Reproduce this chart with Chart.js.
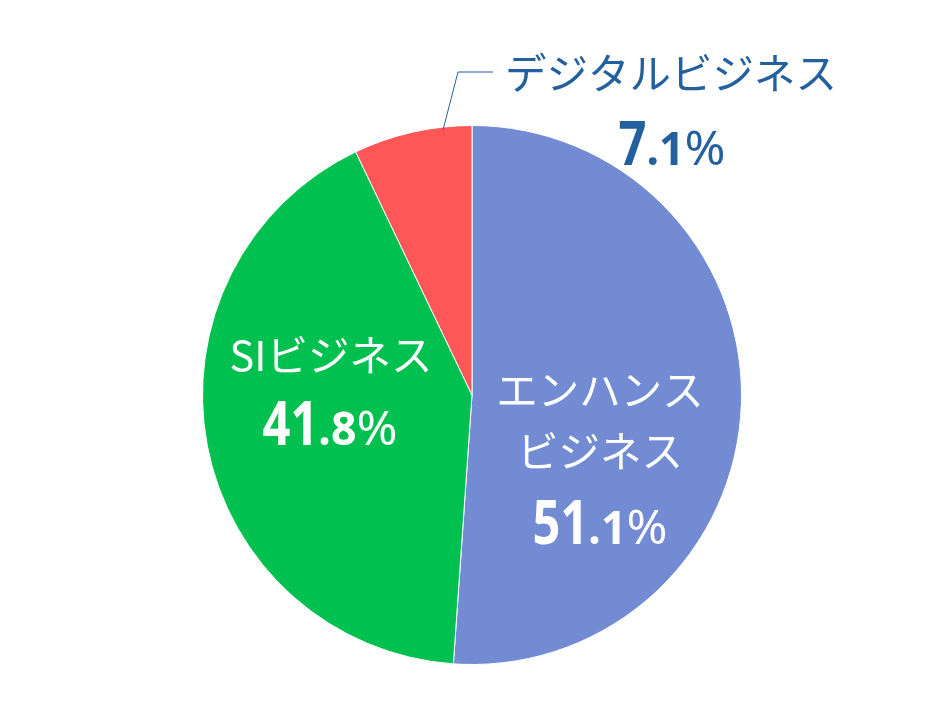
<!DOCTYPE html>
<html>
<head>
<meta charset="utf-8">
<script src="https://cdn.jsdelivr.net/npm/chart.js@4.4.1/dist/chart.umd.min.js"></script>
<style>
  html, body { margin: 0; padding: 0; background: #fff; }
</style>
</head>
<body>
<canvas id="shareChart" width="950" height="720"></canvas>
<script>
// Data
const segments = ['エンハンスビジネス', 'SIビジネス', 'デジタルビジネス'];
const labelLines = [['エンハンス', 'ビジネス'], ['SIビジネス'], ['デジタルビジネス']];
const shares = [51.1, 41.8, 7.1];

// Theme colors
const colors = {
    enhance: '#728BD2',
    si: '#00C050',
    digital: '#FF5757',
    navy: '#22609E',
    white: '#FFFFFF'
};

// Where each label sits (canvas px)
const labelLayout = [
    { x: 600, lineY: [390, 451], pctX: 600, pctY: 544, color: colors.white },
    { x: 331, lineY: [355], pctX: 330, pctY: 445, color: colors.white },
    { x: 671, lineY: [73], pctX: 672, pctY: 165, color: colors.navy, leader: [[443, 130], [458, 72], [493, 72]] }
];

const kanaFont = '41.5px "Noto Sans CJK JP", "Noto Sans", sans-serif';

function drawPercent(ctx, value, cx, baseline) {
    const str = value.toFixed(1);
    const dot = str.indexOf('.');
    const parts = [
        { t: str.slice(0, dot), font: 'bold 61px "Noto Sans", sans-serif', sx: 0.8 },
        { t: str.slice(dot), font: 'bold 47px "Noto Sans", sans-serif', sx: 0.95 },
        { t: '%', font: '47px "Noto Sans", sans-serif', sx: 1.05 }
    ];
    let total = 0;
    parts.forEach(p => {
        ctx.font = p.font;
        p.w = ctx.measureText(p.t).width * p.sx;
        total += p.w;
    });
    let x = cx - total / 2;
    ctx.textAlign = 'left';
    ctx.textBaseline = 'alphabetic';
    parts.forEach(p => {
        ctx.save();
        ctx.font = p.font;
        ctx.translate(x, baseline);
        ctx.scale(p.sx, 1);
        ctx.fillText(p.t, 0, 0);
        ctx.restore();
        x += p.w;
    });
}

const sliceLabels = {
    id: 'sliceLabels',
    afterDraw(chart) {
        const ctx = chart.ctx;
        ctx.save();
        labelLayout.forEach((pos, i) => {
            if (pos.leader) {
                ctx.strokeStyle = pos.color;
                ctx.lineWidth = 1;
                ctx.beginPath();
                pos.leader.forEach(([px, py], k) => k ? ctx.lineTo(px, py) : ctx.moveTo(px, py));
                ctx.stroke();
            }
            ctx.fillStyle = pos.color;
            ctx.font = kanaFont;
            ctx.textAlign = 'center';
            ctx.textBaseline = 'middle';
            labelLines[i].forEach((line, k) => ctx.fillText(line, pos.x, pos.lineY[k]));
            drawPercent(ctx, shares[i], pos.pctX, pos.pctY);
        });
        ctx.restore();
    }
};

new Chart(document.getElementById('shareChart'), {
    type: 'pie',
    data: {
        labels: segments,
        datasets: [{
            data: shares,
            backgroundColor: [colors.enhance, colors.si, colors.digital],
            borderColor: colors.white,
            borderWidth: 1
        }]
    },
    options: {
        responsive: false,
        animation: false,
        layout: { padding: { top: 125, bottom: 55, left: 202, right: 208 } },
        plugins: {
            legend: { display: false },
            tooltip: { enabled: false }
        }
    },
    plugins: [sliceLabels]
});
</script>
</body>
</html>
